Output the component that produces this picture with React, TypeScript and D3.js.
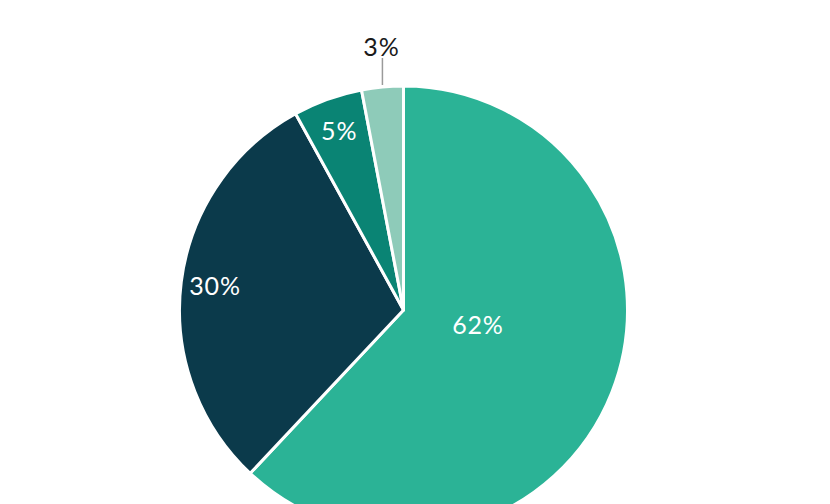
import React from "react";
import * as d3 from "d3";

const labels = ["62%", "30%", "5%", "3%"];
const values = [62, 30, 5, 3];
const colors = ["#2bb396", "#0b3a4b", "#0a8474", "#8ecbb9"];

const W = 830;
const H = 504;
const cx = 403.5;
const cy = 310;
const R = 224;
const FONT = "Lato, 'Open Sans', sans-serif";

export default function App() {
  const pie = d3.pie<number>().sort(null).value((d) => d);
  const arcs = pie(values);
  const arc = d3.arc<d3.PieArcDatum<number>>().innerRadius(0).outerRadius(R);

  return (
    <svg width={W} height={H} style={{ display: "block", position: "absolute", left: 0, top: 0 }}>
      <rect width={W} height={H} fill="#ffffff" />
      <g transform={`translate(${cx},${cy})`}>
        {arcs.map((a, i) => (
          <path key={i} d={arc(a) || ""} fill={colors[i]} stroke="#ffffff" strokeWidth={3} strokeLinejoin="round" />
        ))}
        {arcs.map((a, i) => {
          const mid = (a.startAngle + a.endAngle) / 2;
          const frac = (a.endAngle - a.startAngle) / (2 * Math.PI);
          if (frac < 0.04) {
            // small slice: label outside with a vertical leader
            const x0 = R * Math.sin(mid);
            const y0 = -R * Math.cos(mid);
            return (
              <g key={i}>
                <line x1={x0} x2={x0} y1={y0 - 2} y2={y0 - 29} stroke="#9a9a9a" strokeWidth={1.5} />
                <text x={x0 - 1} y={y0 - 40} dy="0.35em" textAnchor="middle" fontFamily={FONT} fontSize={25} letterSpacing={0.8} fill="#1a1a1a">
                  {labels[i]}
                </text>
              </g>
            );
          }
          let r = 190;
          let ang = mid;
          if (frac > 0.5) {
            r = 76;
            ang = mid - 0.17;
          }
          const x = r * Math.sin(ang);
          const y = -r * Math.cos(ang);
          return (
            <text key={i} x={x} y={y} dy="0.35em" textAnchor="middle" fontFamily={FONT} fontSize={25} letterSpacing={0.8} fill="#ffffff">
              {labels[i]}
            </text>
          );
        })}
      </g>
    </svg>
  );
}
